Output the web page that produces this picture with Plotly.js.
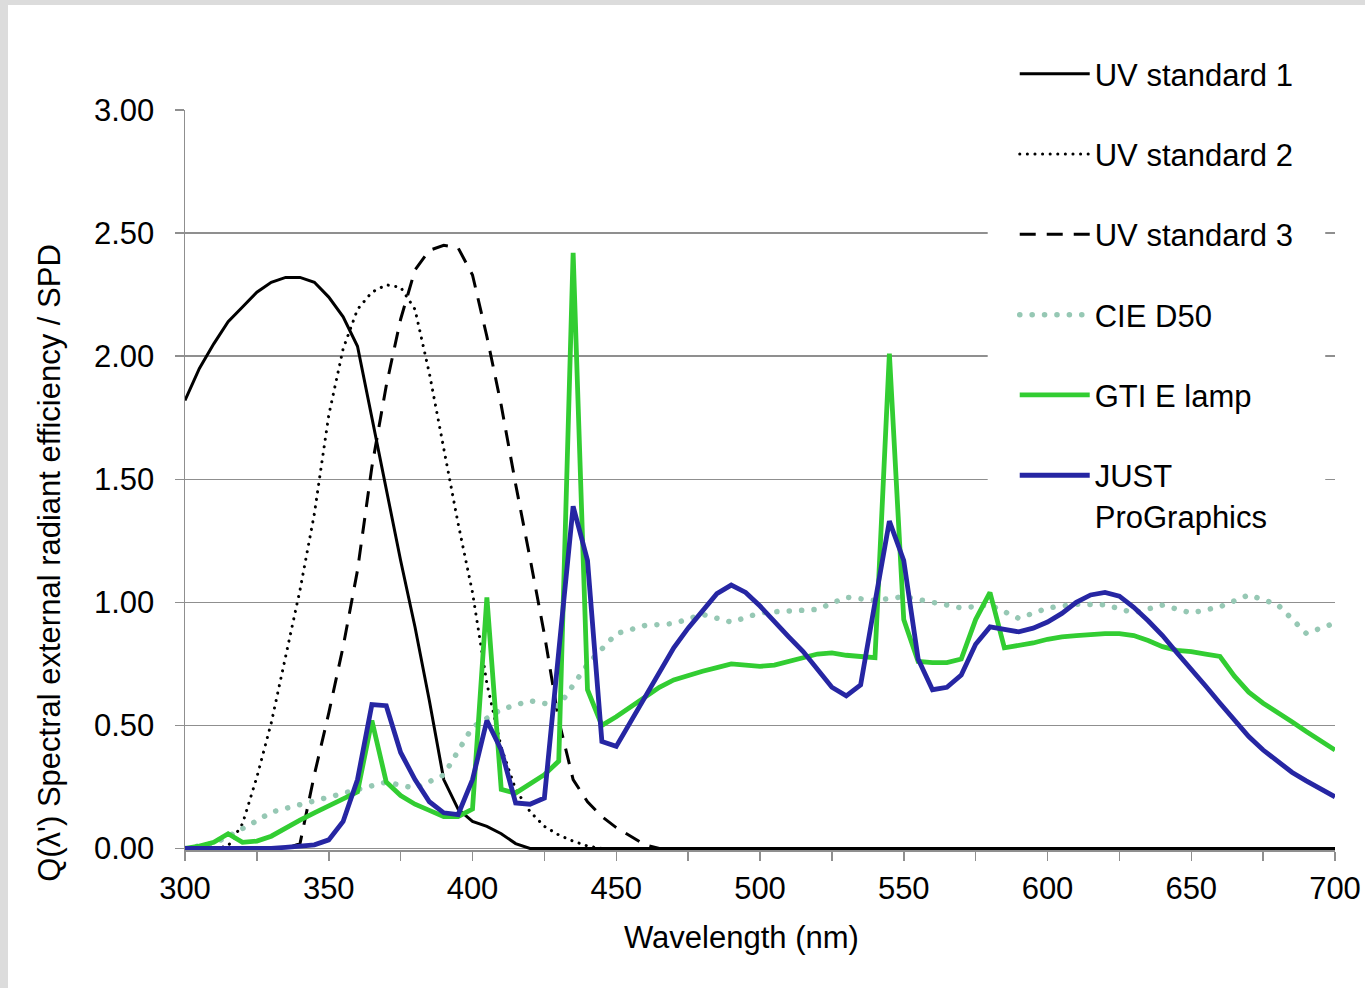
<!DOCTYPE html>
<html>
<head>
<meta charset="utf-8">
<script src="https://cdn.plot.ly/plotly-3.0.1.min.js"></script>
<style>
  html, body { margin: 0; padding: 0; background: #dcdcdc; }
  #chart { position: absolute; left: 8px; top: 5px; width: 1357px; height: 983px; background: #fff; }
</style>
</head>
<body>
<div id="chart"></div>
<script>
// Wavelength grid (nm), 5 nm steps
const wavelength = [
  300,305,310,315,320,325,330,335,340,345,350,355,360,365,370,375,380,385,390,395,
  400,405,410,415,420,425,430,435,440,445,450,455,460,465,470,475,480,485,490,495,
  500,505,510,515,520,525,530,535,540,545,550,555,560,565,570,575,580,585,590,595,
  600,605,610,615,620,625,630,635,640,645,650,655,660,665,670,675,680,685,690,695,
  700
];

// Q(λ') spectral external radiant efficiency of the three UV standards
const uvStandard1 = [
  1.82,1.95,2.05,2.14,2.20,2.26,2.30,2.32,2.32,2.30,2.24,2.16,2.04,1.75,1.45,1.17,0.90,0.60,0.28,0.16,
  0.11,0.09,0.06,0.02,0,0,0,0,0,0,0,0,0,0,0,0,0,0,0,0,
  0,0,0,0,0,0,0,0,0,0,0,0,0,0,0,0,0,0,0,0,
  0,0,0,0,0,0,0,0,0,0,0,0,0,0,0,0,0,0,0,0,
  0
];
const uvStandard2 = [
  0,0,0,0.01,0.10,0.29,0.51,0.78,1.05,1.36,1.76,2.03,2.19,2.26,2.29,2.28,2.19,1.93,1.63,1.32,
  1.04,0.67,0.41,0.24,0.15,0.09,0.055,0.03,0.01,0,0,0,0,0,0,0,0,0,0,0,
  0,0,0,0,0,0,0,0,0,0,0,0,0,0,0,0,0,0,0,0,
  0,0,0,0,0,0,0,0,0,0,0,0,0,0,0,0,0,0,0,0,
  0
];
const uvStandard3 = [
  0,0,0,0,0,0,0,0,0.02,0.30,0.55,0.82,1.13,1.55,1.88,2.15,2.35,2.43,2.45,2.44,
  2.33,2.08,1.80,1.48,1.18,0.87,0.52,0.28,0.19,0.13,0.085,0.05,0.015,0,0,0,0,0,0,0,
  0,0,0,0,0,0,0,0,0,0,0,0,0,0,0,0,0,0,0,0,
  0,0,0,0,0,0,0,0,0,0,0,0,0,0,0,0,0,0,0,0,
  0
];

// Relative spectral power distributions (1.00 at 560 nm)
const cieD50 = [
  0.0002,0.0103,0.0205,0.0491,0.0778,0.1126,0.1475,0.1635,0.1795,0.1948,
  0.2101,0.2248,0.2394,0.2545,0.2696,0.2572,0.2449,0.2718,0.2987,0.3959,
  0.4931,0.5291,0.5651,0.5827,0.6003,0.5893,0.5782,0.6632,0.7482,0.8104,
  0.8725,0.8893,0.9061,0.9099,0.9137,0.9324,0.9511,0.9354,0.9196,0.9384,
  0.9572,0.9617,0.9661,0.9687,0.9713,0.9961,1.0210,1.0143,1.0075,1.0154,
  1.0232,1.0116,1.0000,0.9887,0.9774,0.9833,0.9892,0.9621,0.9350,0.9559,
  0.9769,0.9848,0.9927,0.9916,0.9904,0.9738,0.9572,0.9729,0.9886,0.9726,
  0.9567,0.9693,0.9819,1.0060,1.0300,1.0107,0.9913,0.9326,0.8738,0.8949,
  0.9160
];
const gtiELamp = [
  0.0,0.01,0.025,0.06,0.025,0.03,0.05,0.085,0.115,0.145,
  0.175,0.205,0.23,0.52,0.27,0.215,0.18,0.155,0.13,0.13,
  0.16,1.02,0.24,0.225,0.26,0.30,0.355,2.42,0.645,0.50,
  0.535,0.575,0.615,0.655,0.685,0.705,0.72,0.735,0.75,0.745,
  0.74,0.745,0.76,0.78,0.79,0.795,0.785,0.78,0.775,2.01,
  0.93,0.76,0.755,0.755,0.77,0.93,1.04,0.815,0.825,0.835,
  0.85,0.86,0.865,0.87,0.873,0.873,0.865,0.845,0.82,0.805,
  0.80,0.79,0.78,0.70,0.635,0.59,0.555,0.515,0.475,0.44,
  0.40
];
const justProGraphics = [
  0,0,0,0,0,0,0,0.005,0.01,0.015,
  0.035,0.11,0.28,0.585,0.58,0.39,0.28,0.19,0.145,0.138,
  0.28,0.52,0.40,0.185,0.18,0.205,0.80,1.39,1.17,0.435,
  0.415,0.515,0.615,0.715,0.815,0.895,0.965,1.035,1.07,1.04,
  0.985,0.92,0.86,0.80,0.73,0.655,0.62,0.665,1.00,1.33,
  1.17,0.77,0.645,0.655,0.705,0.83,0.90,0.89,0.88,0.895,
  0.92,0.955,1.0,1.03,1.04,1.025,0.98,0.925,0.865,0.795,
  0.73,0.66,0.59,0.52,0.455,0.40,0.355,0.31,0.275,0.245,
  0.21
];

const seriesNames = ['UV standard 1', 'UV standard 2', 'UV standard 3', 'CIE D50', 'GTI E lamp', 'JUST<br>ProGraphics'];
const yTickValues = [0, 0.5, 1, 1.5, 2, 2.5, 3];
const xTickValues = [300, 350, 400, 450, 500, 550, 600, 650, 700];

const FONT = 'Liberation Sans, Arial, Helvetica, sans-serif';
const FS = 31;
const GRID = '#8f8f8f';

function series(y, i, line) {
  return {
    type: 'scatter', mode: 'lines', x: wavelength, y: y,
    name: seriesNames[i], legendgroup: 'g' + i,
    line: Object.assign({ shape: 'linear' }, line),
    hoverinfo: 'x+y+name'
  };
}

const traces = [
  series(uvStandard1, 0, { color: '#000000', width: 3 }),
  series(uvStandard2, 1, { color: '#000000', width: 3, dash: '0.1px,7.5px' }),
  series(uvStandard3, 2, { color: '#000000', width: 3, dash: '16px,11px' }),
  series(cieD50, 3, { color: 'rgb(150,200,180)', width: 5.5, dash: '0.1px,12.3px' }),
  series(gtiELamp, 4, { color: 'rgb(50,205,50)', width: 4.8 }),
  series(justProGraphics, 5, { color: 'rgb(38,38,163)', width: 4.8 })
];

const layout = {
  width: 1357, height: 983,
  margin: { l: 177, r: 30, t: 105, b: 137.5 },
  paper_bgcolor: '#ffffff', plot_bgcolor: '#ffffff',
  font: { family: FONT, size: FS, color: '#000000' },
  showlegend: true,
  legend: {
    x: 0.7215, xanchor: 'left', y: 1.085, yanchor: 'top',
    bgcolor: 'rgba(255,255,255,0)', borderwidth: 0,
    font: { family: FONT, size: FS, color: '#000000' },
    traceorder: 'grouped', tracegroupgap: 37, valign: 'top', itemwidth: 70
  },
  xaxis: {
    range: [300, 700], tickmode: 'array', tickvals: xTickValues,
    ticks: 'outside', ticklen: 9, tickwidth: 1.5, tickcolor: GRID,
    minor: { dtick: 25, tick0: 300, ticks: 'outside', ticklen: 9, tickwidth: 1.5, tickcolor: GRID, showgrid: false },
    showline: true, linecolor: GRID, linewidth: 1.5, showgrid: false, zeroline: false,
    ticklabelstandoff: 1, layer: 'below traces',
    tickfont: { family: FONT, size: FS, color: '#000000' }
  },
  yaxis: {
    range: [-0.0061, 3], tickmode: 'array', tickvals: yTickValues, tickformat: '.2f',
    ticks: 'outside', ticklen: 9, tickwidth: 1.5, tickcolor: GRID,
    showline: true, linecolor: GRID, linewidth: 1.5,
    showgrid: true, gridcolor: GRID, gridwidth: 1.5, zeroline: false,
    ticklabelstandoff: 14, layer: 'below traces',
    tickfont: { family: FONT, size: FS, color: '#000000' }
  },
  shapes: [
    // white backing behind the legend block, over the gridlines
    { type: 'rect', layer: 'above', xref: 'paper', yref: 'y',
      x0: 0.698, x1: 0.9915, y0: 1.3, y1: 3.05,
      fillcolor: '#ffffff', line: { width: 0 } }
  ],
  annotations: [
    { text: 'Wavelength (nm)', xref: 'paper', yref: 'paper', x: 0.4835, y: -0.1177,
      xanchor: 'center', yanchor: 'middle', showarrow: false,
      font: { family: FONT, size: FS, color: '#000000' } },
    { text: "Q(λ') Spectral external radiant efficiency / SPD", xref: 'paper', yref: 'paper',
      x: -0.1174, y: 0.388, xanchor: 'center', yanchor: 'middle', textangle: -90, showarrow: false,
      font: { family: FONT, size: FS, color: '#000000' } }
  ]
};

Plotly.newPlot('chart', traces, layout, { displayModeBar: false, staticPlot: true }).then(function (gd) {
  // round caps turn the tiny dashes into round dots
  gd.querySelectorAll('path.js-line').forEach(function (p) {
    if ((p.style.strokeDasharray || '').indexOf('0.1px') === 0) {
      p.style.strokeLinecap = 'round';
    }
  });
});
</script>
</body>
</html>
